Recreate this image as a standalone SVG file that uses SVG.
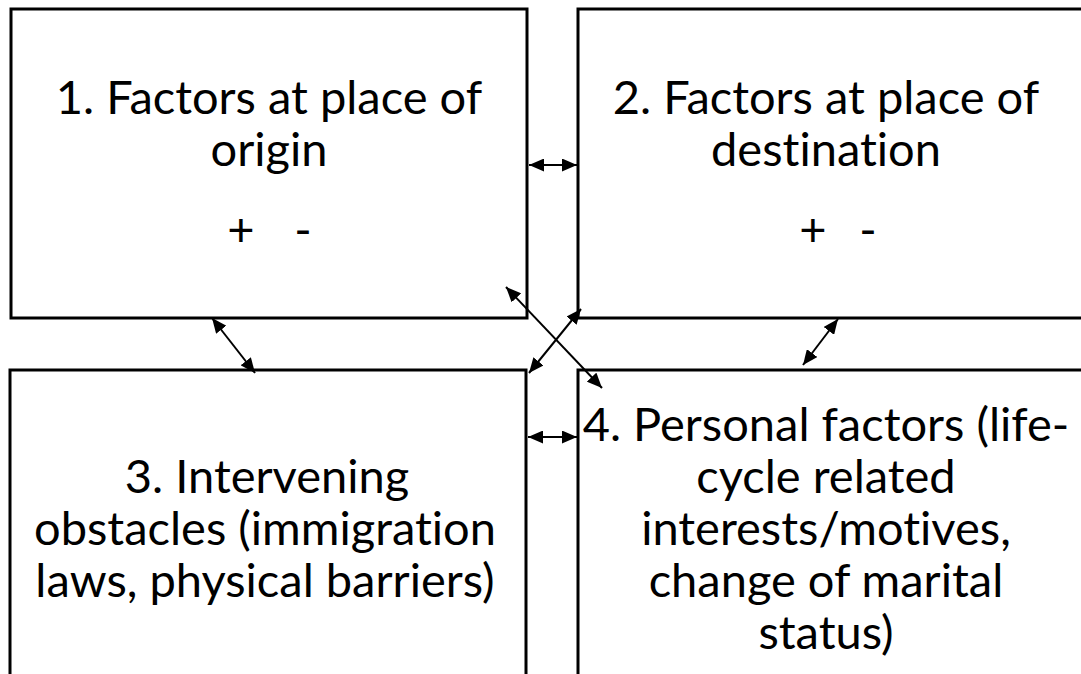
<svg xmlns="http://www.w3.org/2000/svg" width="1081" height="674" viewBox="0 0 1081 674">
<style>
.box{fill:#fff;stroke:#000;stroke-width:3}
.t{font-family:Lato,"Open Sans",sans-serif;font-size:47px;font-variant-ligatures:none;fill:#000;text-anchor:middle}
.c{stroke:#000;stroke-width:2;fill:none;marker-start:url(#a);marker-end:url(#a)}
</style>
<defs>
<marker id="a" viewBox="0 0 10 10" refX="10" refY="5" markerWidth="15" markerHeight="13" orient="auto-start-reverse" markerUnits="userSpaceOnUse" preserveAspectRatio="none">
<path d="M0,0L10,5L0,10z" fill="#000"/>
</marker>
</defs>
<rect width="1081" height="674" fill="#fff"/>
<g id="node1">
<rect class="box" x="11" y="9" width="516" height="309"/>
<text class="t" x="269" y="114">1. Factors at place of</text>
<text class="t" x="269" y="166">origin</text>
<text class="t" x="241" y="246">+</text>
<text class="t" x="303" y="246">-</text>
</g>
<g id="node2">
<rect class="box" x="578" y="9" width="520" height="309"/>
<text class="t" x="826" y="114">2. Factors at place of</text>
<text class="t" x="826" y="166">destination</text>
<text class="t" x="813" y="246">+</text>
<text class="t" x="868" y="246">-</text>
</g>
<g id="node3">
<rect class="box" x="10" y="370" width="516" height="320"/>
<text class="t" x="267" y="493">3. Intervening</text>
<text class="t" x="265" y="545">obstacles (immigration</text>
<text class="t" x="265" y="597">laws, physical barriers)</text>
</g>
<g id="node4">
<rect class="box" x="578" y="370" width="520" height="320"/>
<text class="t" x="826" y="441">4. Personal factors (life-</text>
<text class="t" x="826" y="493">cycle related</text>
<text class="t" x="826" y="545">interests/motives,</text>
<text class="t" x="826" y="597">change of marital</text>
<text class="t" x="826" y="649">status)</text>
</g>
<g id="connectors">
<line class="c" x1="529" y1="165" x2="577" y2="165"/>
<line class="c" x1="528" y1="437" x2="577" y2="437"/>
<line class="c" x1="212" y1="318" x2="255" y2="373"/>
<line class="c" x1="838" y1="319" x2="803" y2="365"/>
<line class="c" x1="506" y1="287" x2="602" y2="388"/>
<line class="c" x1="581" y1="309" x2="529" y2="373"/>
</g>
</svg>
